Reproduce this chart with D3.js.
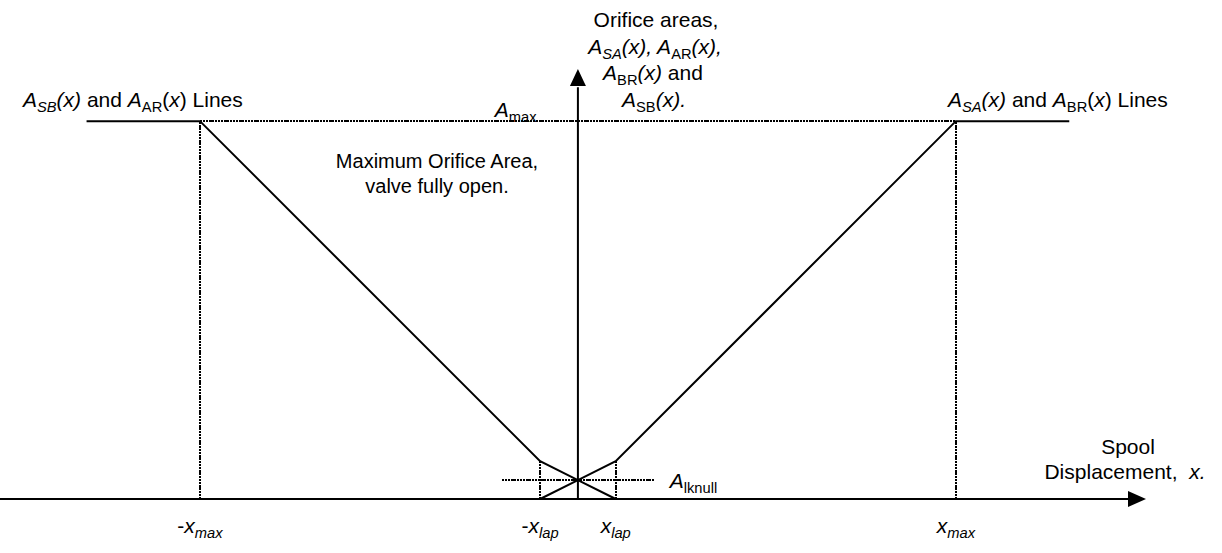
<!DOCTYPE html>
<html>
<head>
<meta charset="utf-8">
<script src="https://cdn.jsdelivr.net/npm/d3@7"></script>
<style>
  html, body { margin: 0; padding: 0; background: #fff; }
  svg { display: block; }
  text { font-family: "Liberation Sans", Arial, sans-serif; fill: #000; }
</style>
</head>
<body>
<svg id="chart" width="1222" height="553"></svg>
<script>
// ---- data (domain units: spool displacement x, orifice area A) ----
const xmax = 10, xlap = 1, Amax = 10, Alknull = 0.5;
// A_SA(x) and A_BR(x) lines (rising to the right)
const rightLine = [
  {x: -1, a: 0}, {x: 0, a: 0.5}, {x: 1, a: 1}, {x: 10, a: 10}, {x: 13, a: 10}
];
// A_SB(x) and A_AR(x) lines (rising to the left)
const leftLine = [
  {x: -13, a: 10}, {x: -10, a: 10}, {x: -1, a: 1}, {x: 0, a: 0.5}, {x: 1, a: 0}
];
// dotted guide lines
const guides = [
  [{x: -10, a: 10}, {x: 10, a: 10}],     // A_max
  [{x: -10, a: 0}, {x: -10, a: 10}],     // -x_max
  [{x: 10, a: 0}, {x: 10, a: 10}],       // x_max
  [{x: -1, a: 0}, {x: -1, a: 1}],        // -x_lap
  [{x: 1, a: 0}, {x: 1, a: 1}],          // x_lap
  [{x: -2, a: 0.5}, {x: 2, a: 0.5}]      // A_lknull
];
// x tick labels: [value, sign, subscript]
const xTickVals = [-10, -1, 1, 10];
const xTickSigns = ["-", "-", "", ""];
const xTickSubs = ["max", "lap", "lap", "max"];

// ---- scales ----
const x = d3.scaleLinear().domain([-15.29, 15.03]).range([0, 1146]);
const y = d3.scaleLinear().domain([0, 11.38]).range([499, 69]);

const svg = d3.select("#chart");
const line = d3.line().x(d => x(d.x)).y(d => y(d.a));

// dotted guides
svg.append("g").selectAll("path").data(guides).join("path")
  .attr("d", line)
  .attr("fill", "none").attr("stroke", "#000")
  .attr("stroke-width", 2).attr("stroke-dasharray", "2,1,2,1,2,1,5,1")
  .attr("shape-rendering", "crispEdges");

// axes
const ax = svg.append("g").attr("stroke", "#000").attr("stroke-width", 2);
ax.append("line").attr("x1", x(-15.29)).attr("x2", x(14.6)).attr("y1", y(0)).attr("y2", y(0));
ax.append("line").attr("x1", x(0)).attr("x2", x(0)).attr("y1", y(0)).attr("y2", y(10.9));
// arrowheads
svg.append("path")
  .attr("d", `M${x(15.03)},${y(0)} L${x(15.03) - 18},${y(0) - 8} L${x(15.03) - 18},${y(0) + 8} Z`)
  .attr("fill", "#000");
svg.append("path")
  .attr("d", `M${x(0)},${y(11.38)} L${x(0) - 8},${y(11.38) + 17} L${x(0) + 8},${y(11.38) + 17} Z`)
  .attr("fill", "#000");

// characteristic lines
svg.append("g").selectAll("path").data([rightLine, leftLine]).join("path")
  .attr("d", line)
  .attr("fill", "none").attr("stroke", "#000").attr("stroke-width", 2)
  .attr("stroke-linejoin", "miter");

// ---- rich text helper ----
function rich(px, py, segs, anchor, size) {
  size = size || 21;
  const t = svg.append("text").attr("x", px).attr("y", py)
    .attr("text-anchor", anchor || "start").attr("font-size", size);
  let cur = 0;
  segs.forEach(s => {
    const target = s.sub ? 5 : 0;
    t.append("tspan")
      .attr("dy", target - cur)
      .attr("font-size", s.sub ? size * 0.7 : size)
      .attr("font-style", s.i ? "italic" : "normal")
      .text(s.t);
    cur = target;
  });
  return t;
}

// y-axis title
rich(656, 27, [{t: "Orifice areas,"}], "middle");
rich(655, 54, [{t: "A", i: 1}, {t: "SA", i: 1, sub: 1}, {t: "(x), A", i: 1}, {t: "AR", sub: 1}, {t: "(x),", i: 1}], "middle");
rich(653, 80, [{t: "A", i: 1}, {t: "BR", sub: 1}, {t: "(x)", i: 1}, {t: " and"}], "middle");
rich(654, 107, [{t: "A", i: 1}, {t: "SB", sub: 1}, {t: "(x).", i: 1}], "middle");

// line labels
rich(23, 107, [{t: "A", i: 1}, {t: "SB", i: 1, sub: 1}, {t: "(x)", i: 1}, {t: " and "}, {t: "A", i: 1}, {t: "AR", sub: 1}, {t: "("}, {t: "x", i: 1}, {t: ") Lines"}]);
rich(948, 107, [{t: "A", i: 1}, {t: "SA", i: 1, sub: 1}, {t: "(x)", i: 1}, {t: " and "}, {t: "A", i: 1}, {t: "BR", sub: 1}, {t: "("}, {t: "x", i: 1}, {t: ") Lines"}]);

// A_max and A_lknull labels
rich(x(-2.2), y(Amax) - 4, [{t: "A", i: 1}, {t: "max", sub: 1}]);
rich(x(2.43), y(Alknull) + 8, [{t: "A", i: 1}, {t: "lknull", sub: 1}]);

// annotation
rich(437, 168, [{t: "Maximum Orifice Area,"}], "middle", 20);
rich(437, 193, [{t: "valve fully open."}], "middle", 20);

// x-axis title
rich(1128, 454, [{t: "Spool"}], "middle");
rich(1125, 479, [{t: "Displacement,\u00a0 "}, {t: "x.", i: 1}], "middle");

// x tick labels
xTickVals.forEach((v, k) => {
  rich(x(v), 533, [{t: xTickSigns[k]}, {t: "x", i: 1}, {t: xTickSubs[k], i: 1, sub: 1}], "middle");
});
</script>
</body>
</html>
